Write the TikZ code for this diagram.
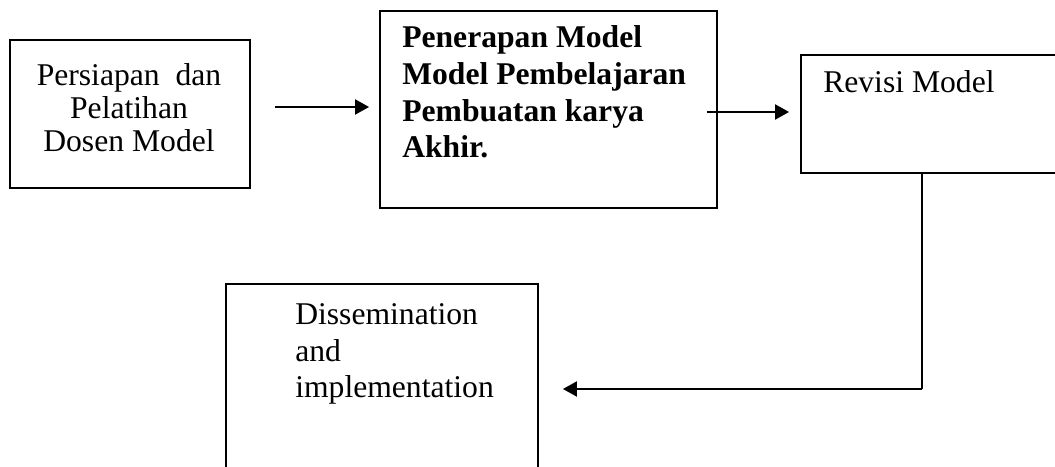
\documentclass[tikz,border=0pt]{standalone}
\usepackage{fontspec}
\setmainfont{Liberation Serif}
\usetikzlibrary{arrows.meta}

\begin{document}
\begin{tikzpicture}[
    box/.style={draw, line width=1.3pt, inner sep=0pt},
    flow/.style={-{Triangle[length=0.35cm, width=0.375cm]}, line width=1.4pt},
    plain/.style={line width=1.4pt},
    body/.style={inner sep=0pt, font=\fontsize{22.5}{26.2}\selectfont}
  ]
  \useasboundingbox (0,0) rectangle (26.375,-11.675);
  % boxes
  \node[box, minimum width=6cm, minimum height=3.7cm]
    (persiapan) at (3.25,-2.85) {};
  \node[box, minimum width=8.425cm, minimum height=4.925cm]
    (penerapan) at (13.7125,-2.7375) {};
  \node[box, minimum width=6.725cm, minimum height=2.95cm]
    (revisi) at (23.3875,-2.85) {};
  \node[box, minimum width=7.8cm, minimum height=4.9cm]
    (dissem) at (9.55,-9.55) {};
  % texts (base = last line)
  \node[body, font=\fontsize{22.5}{23.8}\selectfont, align=center, anchor=base]
    (persiapan-txt) at (3.225,-3.8) {Persiapan\ \ dan\\Pelatihan\\Dosen Model};
  \node[body, font=\fontsize{22.5}{26.2}\selectfont\bfseries, align=left, anchor=base west]
    (penerapan-txt) at (10.05,-3.95)
    {Penerapan Model\\Model Pembelajaran\\Pembuatan karya\\Akhir.};
  \node[body, anchor=base west] (revisi-txt) at (20.575,-2.325) {Revisi Model};
  \node[body, align=left, anchor=base west]
    (dissem-txt) at (7.375,-9.95) {Dissemination\\and\\implementation};
  % connectors
  \draw[flow, shorten <=0.6cm, shorten >=0.25cm]
    ([yshift=0.175cm]persiapan.east) -- ([yshift=0.175cm]persiapan.east -| penerapan.west);
  \draw[flow]
    ([xshift=-0.275cm, yshift=-0.0625cm]penerapan.east)
    -- ([xshift=-0.275cm, yshift=-0.0625cm]penerapan.east -| revisi.west);
  \coordinate (turn) at ([xshift=-0.3375cm]revisi.south |- 0,-9.725);
  \draw[plain] ([xshift=-0.3375cm]revisi.south) -- (turn);
  \draw[flow, shorten >=0.6cm] (turn) -- (turn -| dissem.east);
\end{tikzpicture}
\end{document}
